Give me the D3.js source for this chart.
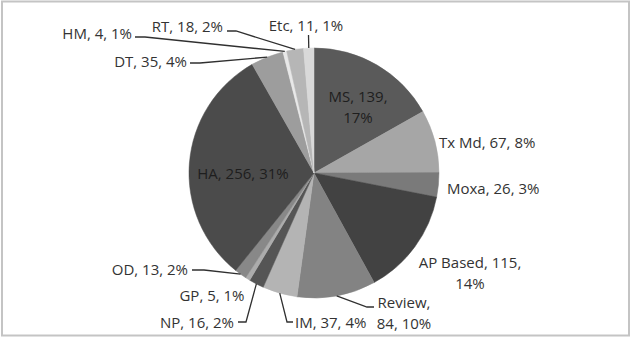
<!DOCTYPE html>
<html>
<head>
<meta charset="utf-8">
<script src="https://cdn.jsdelivr.net/npm/d3@7"></script>
<style>
  html, body { margin: 0; padding: 0; background: #fff; }
  svg { display: block; }
  text { font-family: "Open Sans", sans-serif; font-size: 15px; fill: #333333; }
</style>
</head>
<body>
<svg id="chart" width="636" height="337"></svg>
<script>
// ---- data ----
const categories = ["MS", "Tx Md", "Moxa", "AP Based", "Review", "IM", "NP", "GP", "OD", "HA", "DT", "HM", "RT", "Etc"];
const values     = [139, 67, 26, 115, 84, 37, 16, 5, 13, 256, 35, 4, 18, 11];
const percentLabels = ["17%", "8%", "3%", "14%", "10%", "4%", "2%", "1%", "2%", "31%", "4%", "1%", "2%", "1%"];
const sliceColors = ["#5a5a5a", "#a6a6a6", "#7a7a7a", "#424242", "#838383", "#b4b4b4", "#555555",
                     "#acacac", "#888888", "#4b4b4b", "#9d9d9d", "#e8e8e8", "#b6b6b6", "#d9d9d9"];

// ---- label layout (text anchor, line break position, leader elbow points) ----
const labelLayout = {
  "MS":       { x: 358, y: 96,  anchor: "middle", breakAfter: 2 },
  "Tx Md":    { x: 439, y: 142, anchor: "start" },
  "Moxa":     { x: 447, y: 188, anchor: "start" },
  "AP Based": { x: 470, y: 262, anchor: "middle", breakAfter: 2 },
  "Review":   { x: 404, y: 302, anchor: "middle", breakAfter: 1, leader: [[367, 307], [374, 307]] },
  "IM":       { x: 295, y: 322, anchor: "start", leader: [[287, 322], [293, 322]] },
  "NP":       { x: 234, y: 322, anchor: "end", leader: [[246, 322], [238, 322]] },
  "GP":       { x: 212, y: 295, anchor: "middle" },
  "OD":       { x: 188, y: 269, anchor: "end", leader: [[204, 270], [192, 270]] },
  "HA":       { x: 243, y: 173, anchor: "middle" },
  "DT":       { x: 187, y: 61,  anchor: "end", leader: [[200, 63], [190, 63]] },
  "HM":       { x: 132, y: 33,  anchor: "end", leader: [[145, 37], [135, 37]] },
  "RT":       { x: 223, y: 26,  anchor: "end", leader: [[236, 31], [227, 31]] },
  "Etc":      { x: 306, y: 25,  anchor: "middle", leader: [[308.5, 35]] }
};

const cx = 314, cy = 173, radius = 125;
const svg = d3.select("#chart");

// chart frame
svg.append("rect")
  .attr("x", 2).attr("y", 1.5)
  .attr("width", 627).attr("height", 334)
  .attr("fill", "#fff")
  .attr("stroke", "#c4c4c4")
  .attr("stroke-width", 2);

const data = categories.map((c, i) => ({ name: c, value: values[i], pct: percentLabels[i], color: sliceColors[i] }));

const pie = d3.pie().value(d => d.value).sort(null);
const arcs = pie(data);
const arc = d3.arc().innerRadius(0).outerRadius(radius);
const edgeArc = d3.arc().innerRadius(radius).outerRadius(radius);

const g = svg.append("g").attr("transform", `translate(${cx},${cy})`);

g.selectAll("path.slice")
  .data(arcs)
  .enter().append("path")
  .attr("class", "slice")
  .attr("d", arc)
  .attr("fill", d => d.data.color)
  .attr("stroke", d => d.data.color)
  .attr("stroke-width", 0.5);

// leader lines
const line = d3.line();
arcs.forEach(a => {
  const lay = labelLayout[a.data.name];
  if (!lay.leader) return;
  const [ex, ey] = edgeArc.centroid(a);
  svg.append("path")
    .attr("d", line([[cx + ex, cy + ey]].concat(lay.leader)))
    .attr("fill", "none")
    .attr("stroke", "#303030")
    .attr("stroke-width", 1.3);
});

// labels: "name, value, pct"
arcs.forEach(a => {
  const d = a.data;
  const lay = labelLayout[d.name];
  const parts = [d.name, String(d.value), d.pct];
  let lines;
  if (lay.breakAfter) {
    lines = [parts.slice(0, lay.breakAfter).join(", ") + ",", parts.slice(lay.breakAfter).join(", ")];
  } else {
    lines = [parts.join(", ")];
  }
  const t = svg.append("text")
    .attr("text-anchor", lay.anchor)
    .attr("x", lay.x)
    .attr("y", lay.y)
    .attr("dominant-baseline", "central")
    .style("fill", (d.name === "HA" || d.name === "MS") ? "#1e1e1e" : null);
  lines.forEach((ln, i) => {
    t.append("tspan")
      .attr("x", lay.x)
      .attr("dy", i === 0 ? 0 : 21)
      .text(ln);
  });
});
</script>
</body>
</html>
